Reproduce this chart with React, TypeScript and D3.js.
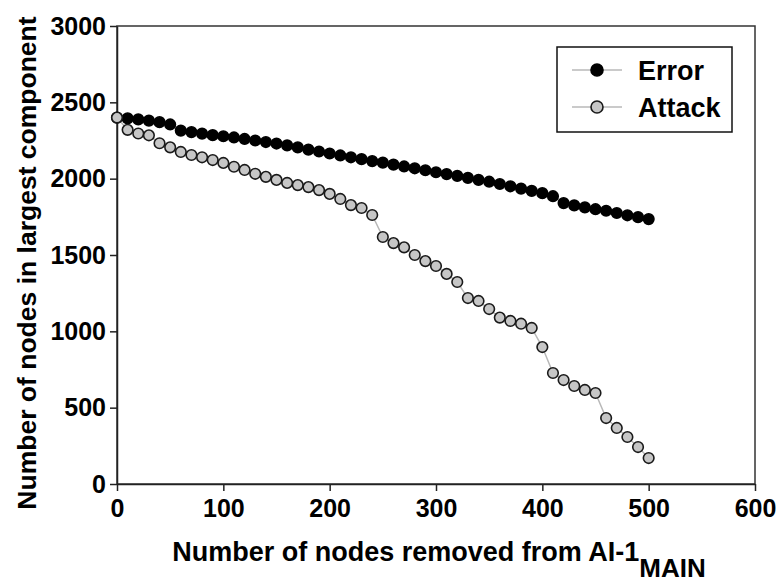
import React, { useRef, useEffect } from "react";
import * as d3 from "d3";

const nodesRemoved = [
  0, 10, 20, 30, 40, 50, 60, 70, 80, 90, 100, 110, 120, 130, 140, 150, 160,
  170, 180, 190, 200, 210, 220, 230, 240, 250, 260, 270, 280, 290, 300, 310,
  320, 330, 340, 350, 360, 370, 380, 390, 400, 410, 420, 430, 440, 450, 460,
  470, 480, 490, 500,
];

const errorValues = [
  2400, 2395, 2388, 2380, 2370, 2355, 2315, 2305, 2295, 2285, 2278, 2270,
  2260, 2250, 2240, 2230, 2218, 2205, 2190, 2178, 2165, 2152, 2140, 2128,
  2115, 2105, 2092, 2080, 2068, 2055, 2042, 2030, 2018, 2005, 1992, 1980,
  1965, 1950, 1935, 1920, 1905, 1885, 1840, 1825, 1812, 1800, 1790, 1775,
  1760, 1748, 1735,
];

const attackValues = [
  2400, 2320, 2296, 2284, 2232, 2205, 2175, 2155, 2140, 2122, 2103, 2078,
  2057, 2032, 2012, 1992, 1972, 1958, 1945, 1925, 1900, 1867, 1827, 1808,
  1762, 1618, 1578, 1550, 1500, 1460, 1428, 1376, 1323, 1218, 1199, 1146,
  1090, 1068, 1050, 1022, 897, 727, 681, 642, 616, 596, 432, 367, 308, 242,
  170,
];

const xTicks = [0, 100, 200, 300, 400, 500, 600];
const yTicks = [0, 500, 1000, 1500, 2000, 2500, 3000];
const seriesNames = ["Error", "Attack"];

const width = 776;
const height = 582;
const margin = { top: 26, right: 21, bottom: 98, left: 117 };
const font = "'Liberation Sans', Arial, sans-serif";

const NodeChart = () => {
  const svgRef = useRef(null);

  useEffect(() => {
    const svg = d3.select(svgRef.current);

    const xScale = d3
      .scaleLinear()
      .domain([0, 600])
      .range([margin.left, width - margin.right]);
    const yScale = d3
      .scaleLinear()
      .domain([0, 3000])
      .range([height - margin.bottom, margin.top]);

    // frame (top + right)
    svg
      .append("rect")
      .attr("x", margin.left)
      .attr("y", margin.top)
      .attr("width", width - margin.left - margin.right)
      .attr("height", height - margin.top - margin.bottom)
      .attr("fill", "none")
      .attr("stroke", "#333")
      .attr("stroke-width", 1.5);

    const xAxis = svg
      .append("g")
      .attr("transform", `translate(0, ${height - margin.bottom})`)
      .call(
        d3.axisBottom(xScale).tickValues(xTicks).tickFormat(d3.format("d"))
          .tickSize(7).tickPadding(8).tickSizeOuter(0)
      );
    const yAxis = svg
      .append("g")
      .attr("transform", `translate(${margin.left}, 0)`)
      .call(
        d3.axisLeft(yScale).tickValues(yTicks).tickFormat(d3.format("d"))
          .tickSize(7).tickPadding(4).tickSizeOuter(0)
      );

    [xAxis, yAxis].forEach((ax) => {
      ax.select(".domain").attr("stroke", "#222").attr("stroke-width", 1.5);
      ax.selectAll(".tick line").attr("stroke", "#222").attr("stroke-width", 1.5);
      ax.selectAll(".tick text")
        .attr("fill", "#000")
        .style("font-family", font)
        .style("font-weight", "bold")
        .style("font-size", "25px");
    });

    const series = [
      { values: errorValues, fill: "#000", stroke: "#000" },
      { values: attackValues, fill: "#c6c6c6", stroke: "#1a1a1a" },
    ];

    series.forEach((s) => {
      const pts = nodesRemoved.map((x, i) => [x, s.values[i]]);
      const line = d3
        .line()
        .x((d) => xScale(d[0]))
        .y((d) => yScale(d[1]));
      svg
        .append("path")
        .datum(pts)
        .attr("fill", "none")
        .attr("stroke", "#b8b8b8")
        .attr("stroke-width", 1.5)
        .attr("d", line);
    });

    // error first, attack drawn on top
    series.forEach((s, idx) => {
      svg
        .selectAll(`.dot-${idx}`)
        .data(nodesRemoved.map((x, i) => [x, s.values[i]]))
        .enter()
        .append("circle")
        .attr("class", `dot-${idx}`)
        .attr("r", 5.3)
        .attr("cx", (d) => xScale(d[0]))
        .attr("cy", (d) => yScale(d[1]))
        .style("fill", s.fill)
        .style("stroke", s.stroke)
        .style("stroke-width", 1.6);
    });

    // axis titles
    svg
      .append("text")
      .attr("transform", "translate(36, 263) rotate(-90)")
      .attr("text-anchor", "middle")
      .style("font-family", font)
      .style("font-weight", "bold")
      .style("font-size", "26.5px")
      .text("Number of nodes in largest component");

    const xt = svg
      .append("text")
      .attr("x", 439)
      .attr("y", 561)
      .attr("text-anchor", "middle")
      .style("font-family", font)
      .style("font-weight", "bold")
      .style("font-size", "27px");
    xt.append("tspan").text("Number of nodes removed from AI-1");
    xt.append("tspan").attr("dy", 16).style("font-size", "26px").text("MAIN");

    // legend
    const legend = svg.append("g").attr("transform", "translate(557, 47)");
    legend
      .append("rect")
      .attr("width", 175)
      .attr("height", 85)
      .attr("fill", "#fff")
      .attr("stroke", "#111")
      .attr("stroke-width", 1.5);

    seriesNames.forEach((name, idx) => {
      const g = legend.append("g").attr("transform", `translate(0, ${23 + idx * 37})`);
      g.append("line")
        .attr("x1", 15)
        .attr("x2", 65)
        .attr("stroke", "#b8b8b8")
        .attr("stroke-width", 1.5);
      g.append("circle")
        .attr("cx", 40)
        .attr("r", 6)
        .style("fill", series[idx].fill)
        .style("stroke", series[idx].stroke)
        .style("stroke-width", 1.6);
      g.append("text")
        .attr("x", 81)
        .attr("y", 10)
        .style("font-family", font)
        .style("font-weight", "bold")
        .style("font-size", "27px")
        .text(name);
    });

    return () => {
      svg.selectAll("*").remove();
    };
  }, []);

  return <svg ref={svgRef} width={width} height={height} style={{ display: "block" }}></svg>;
};

export default function App() {
  return (
    <>
      <style>{"body{margin:0;background:#fff}"}</style>
      <NodeChart />
    </>
  );
}
